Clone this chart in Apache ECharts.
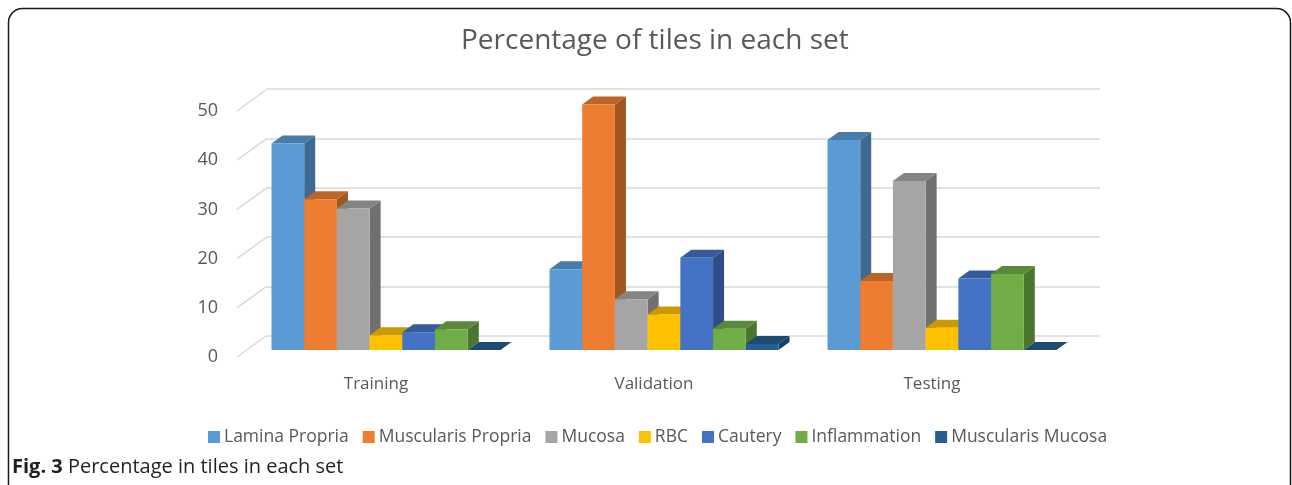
<!DOCTYPE html>
<html>
<head>
<meta charset="utf-8">
<script src="https://cdn.jsdelivr.net/npm/echarts@6/dist/echarts.min.js"></script>
<style>html,body{margin:0;padding:0;background:#fff;}#c{width:1292px;height:485px;}</style>
</head>
<body>
<div id="c"></div>
<script>
var categories = ['Training', 'Validation', 'Testing'];
var seriesNames = ['Lamina Propria', 'Muscularis Propria', 'Mucosa', 'RBC', 'Cautery', 'Inflammation', 'Muscularis Mucosa'];
var laminaPropria = [41.9, 16.4, 42.6];
var muscularisPropria = [30.6, 49.8, 14.0];
var mucosa = [28.7, 10.3, 34.3];
var rbc = [3.0, 7.2, 4.5];
var cautery = [3.6, 18.7, 14.5];
var inflammation = [4.2, 4.3, 15.4];
var muscularisMucosa = [0, 1.2, 0];
var yTicks = [0, 10, 20, 30, 40, 50];

var seriesValues = [laminaPropria, muscularisPropria, mucosa, rbc, cautery, inflammation, muscularisMucosa];
var colors = ['#5B9BD5', '#ED7D31', '#A5A5A5', '#FFC000', '#4472C4', '#70AD47', '#255E91'];
var FONT = '"Open Sans", "DejaVu Sans", sans-serif';
var DX = 11, DY = 8;

function shade(hex, f) {
  var n = parseInt(hex.slice(1), 16);
  var r = Math.round(((n >> 16) & 255) * f), g = Math.round(((n >> 8) & 255) * f), b = Math.round((n & 255) * f);
  return 'rgb(' + r + ',' + g + ',' + b + ')';
}

var chart = echarts.init(document.getElementById('c'), null, {renderer: 'canvas'});

var series = [];
// left wall diagonals (front grid)
series.push({
  type: 'custom', xAxisIndex: 0, yAxisIndex: 0, silent: true, z: 1,
  data: yTicks.map(function (v) { return [0, v]; }),
  renderItem: function (params, api) {
    var p = api.coord([0, api.value(1)]);
    var x0 = params.coordSys.x;
    return {type: 'line', shape: {x1: x0, y1: p[1], x2: x0 + 29, y2: p[1] - 21},
      style: {stroke: '#d9d9d9', lineWidth: 1.5}};
  }
});

seriesNames.forEach(function (name, si) {
  var col = colors[si];
  series.push({
    type: 'custom', name: name, xAxisIndex: 2, yAxisIndex: 2, z: 3 + si,
    itemStyle: {color: col},
    encode: {x: 0, y: 1},
    data: seriesValues[si].map(function (v, ci) { return [ci, v]; }),
    renderItem: function (params, api) {
      var ci = api.value(0), v = api.value(1);
      var top = api.coord([ci, v]);
      var base = api.coord([ci, 0]);
      var band = api.size([1, 0])[0];
      var w = band * 229 / 278 / 7;
      var x0 = top[0] - 3.5 * w + si * w;
      var x1 = x0 + w;
      var yt = top[1], yb = base[1];
      return {type: 'group', children: [
        {type: 'polygon', shape: {points: [[x1, yt], [x1 + DX, yt - DY], [x1 + DX, yb - DY], [x1, yb]]},
          style: {fill: shade(col, 0.68)}},
        {type: 'polygon', shape: {points: [[x0, yt], [x0 + DX, yt - DY], [x1 + DX, yt - DY], [x1, yt]]},
          style: {fill: shade(col, 0.8)}},
        {type: 'rect', shape: {x: x0, y: yt, width: w, height: yb - yt},
          style: {fill: col}}
      ]};
    }
  });
});

var option = {
  animation: false,
  backgroundColor: '#fff',
  title: {
    text: 'Percentage of tiles in each set', left: 456, top: 22,
    textStyle: {fontFamily: FONT, fontSize: 28, fontWeight: 'normal', color: '#595959'}
  },
  legend: {
    data: seriesNames, top: 423, left: 203, itemWidth: 12, itemHeight: 12, itemGap: 14,
    icon: 'rect',
    textStyle: {fontFamily: FONT, fontSize: 17.5, color: '#595959', padding: [0, 0, 0, -1]}
  },
  grid: [
    {left: 237, right: 221, top: 111, bottom: 128},
    {left: 266, right: 192, top: 89, bottom: 149},
    {left: 247, right: 211, top: 103.5, bottom: 135}
  ],
  xAxis: [
    {type: 'category', data: categories, gridIndex: 0, axisLine: {show: false}, axisTick: {show: false},
      axisLabel: {margin: 19, fontFamily: FONT, fontSize: 17, color: '#595959'}},
    {type: 'category', data: categories, gridIndex: 1, show: false},
    {type: 'category', data: categories, gridIndex: 2, show: false}
  ],
  yAxis: [
    {type: 'value', gridIndex: 0, min: 0, max: 50, interval: 10, splitLine: {show: false},
      axisLine: {show: false}, axisTick: {show: false},
      axisLabel: {margin: 19, fontFamily: FONT, fontSize: 18, color: '#595959'}},
    {type: 'value', gridIndex: 1, min: 0, max: 50, interval: 10, axisLabel: {show: false},
      axisLine: {show: false}, axisTick: {show: false},
      splitLine: {show: true, lineStyle: {color: '#d9d9d9', width: 1.5}}},
    {type: 'value', gridIndex: 2, min: 0, max: 50, interval: 10, show: false, splitLine: {show: false}}
  ],
  graphic: [
    {type: 'rect', shape: {x: 8.5, y: 8.5, width: 1282, height: 492, r: 14}, silent: true,
      style: {fill: 'none', stroke: '#1a1a1a', lineWidth: 1.5}, z: 100},
    {type: 'text', left: 12, top: 457, silent: true,
      style: {text: '{b|Fig. 3} Percentage in tiles in each set', fontFamily: FONT, fontSize: 20, fill: '#231f20',
        rich: {b: {fontFamily: FONT, fontSize: 20, fontWeight: 'bold', fill: '#231f20'}}}}
  ],
  series: series
};
chart.setOption(option);
</script>
</body>
</html>
